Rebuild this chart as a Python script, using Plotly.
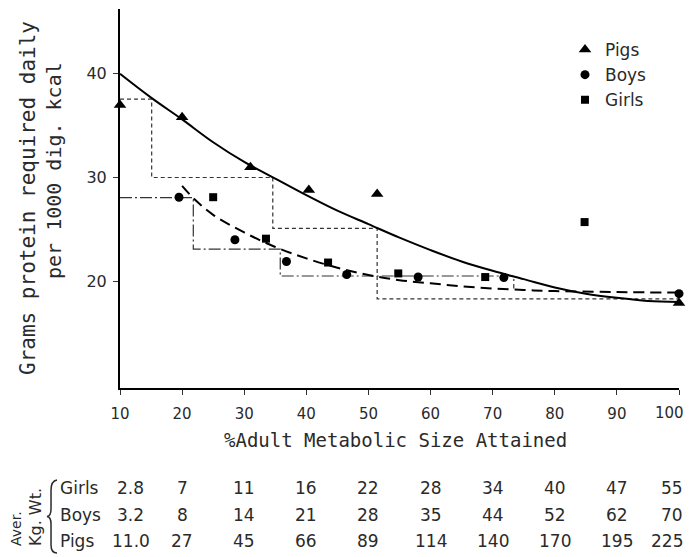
import plotly.graph_objects as go

# ---- data ----
pigs_x = [10, 20, 31, 40.4, 51.4, 100]
pigs_y = [37.0, 35.8, 31.0, 28.8, 28.4, 17.9]
boys_x = [19.5, 28.5, 36.8, 46.5, 58.0, 71.8, 100]
boys_y = [28.1, 24.0, 21.9, 20.65, 20.4, 20.35, 18.8]
girls_x = [25.0, 33.5, 43.5, 54.8, 68.8, 84.8]
girls_y = [28.1, 24.1, 21.8, 20.75, 20.4, 25.7]

pig_curve_x = [10, 15, 20, 25, 30, 35, 40, 45, 50, 55, 60, 65, 70, 75, 80, 85, 90, 95, 100]
pig_curve_y = [40.0, 37.7, 35.6, 33.4, 31.5, 29.9, 28.3, 26.8, 25.5, 24.2, 23.0, 21.9, 21.0,
               20.2, 19.4, 18.8, 18.4, 18.1, 18.0]
child_curve_x = [20, 22, 25, 30, 35, 40, 45, 50, 55, 60, 65, 70, 75, 80, 90, 100]
child_curve_y = [29.2, 27.9, 26.4, 24.7, 23.3, 22.2, 21.3, 20.6, 20.1, 19.8, 19.5, 19.3,
                 19.15, 19.05, 18.95, 18.9]

pig_step_x = [10, 15.1, 15.1, 34.6, 34.6, 51.4, 51.4, 100]
pig_step_y = [37.55, 37.55, 30.0, 30.0, 25.1, 25.1, 18.3, 18.3]
child_step_x = [10, 21.8, 21.8, 35.8, 35.8, 73.4, 73.4]
child_step_y = [28.05, 28.05, 23.1, 23.1, 20.5, 20.5, 19.3]

x_ticks = [10, 20, 30, 40, 50, 60, 70, 80, 90, 100]
# the last label ("100") sits on the page edge; it is drawn as a right-aligned annotation
x_tick_labels = ["10", "20", "30", "40", "50", "60", "70", "80", "90", ""]
last_x_label = "100"
y_ticks = [20, 30, 40]

table_groups = ["Girls", "Boys", "Pigs"]
girls_wt = ["2.8", "7", "11", "16", "22", "28", "34", "40", "47", "55"]
boys_wt = ["3.2", "8", "14", "21", "28", "35", "44", "52", "62", "70"]
pigs_wt = ["11.0", "27", "45", "66", "89", "114", "140", "170", "195", "225"]

FONT = "DejaVu Sans"
MONO = "DejaVu Sans Mono"
TXT = "#2a2a2a"

fig = go.Figure()

fig.add_trace(go.Scatter(x=pig_step_x, y=pig_step_y, mode="lines",
                         line=dict(color="#333", width=1.2, dash="4px,3px"),
                         showlegend=False, hoverinfo="skip"))
fig.add_trace(go.Scatter(x=child_step_x, y=child_step_y, mode="lines",
                         line=dict(color="#333", width=1.2, dash="12px,3px,2px,3px"),
                         showlegend=False, hoverinfo="skip"))
fig.add_trace(go.Scatter(x=pig_curve_x, y=pig_curve_y, mode="lines",
                         line=dict(color="black", width=2, shape="spline"),
                         showlegend=False, hoverinfo="skip"))
fig.add_trace(go.Scatter(x=child_curve_x, y=child_curve_y, mode="lines",
                         line=dict(color="black", width=2, shape="spline", dash="11px,6px"),
                         showlegend=False, hoverinfo="skip"))

fig.add_trace(go.Scatter(x=pigs_x, y=pigs_y, mode="markers", name="Pigs",
                         marker=dict(symbol="triangle-up", size=11, color="black"),
                         cliponaxis=False))
fig.add_trace(go.Scatter(x=boys_x, y=boys_y, mode="markers", name="Boys",
                         marker=dict(symbol="circle", size=9, color="black"),
                         cliponaxis=False))
fig.add_trace(go.Scatter(x=girls_x, y=girls_y, mode="markers", name="Girls",
                         marker=dict(symbol="square", size=8, color="black"),
                         cliponaxis=False))

# the page has an 8px body margin: the figure sits at (8, 8)
OFF = 8
W, H = 694 - OFF, 557 - OFF
# plot area in reference-picture pixels: x 120..679, y 9..388
L, R, T, B = 120, 679, 9, 388
def px(x):
    return (x - L) / (R - L)
def py(y):
    return (B - y) / (B - T)

C = dict(xanchor="center", yanchor="middle", showarrow=False, xref="paper", yref="paper")
ann = []
# y-axis title (two lines)
ann.append(dict(text="Grams protein required daily", x=px(28), y=py(198), textangle=-90,
                font=dict(family=MONO, size=21, color=TXT), **C))
ann.append(dict(text="per 1000 dig. kcal", x=px(54), y=py(171), textangle=-90,
                font=dict(family=MONO, size=20, color=TXT), **C))
# x-axis title
ann.append(dict(text="%Adult Metabolic Size Attained", x=px(395), y=py(440),
                font=dict(family=MONO, size=19, color=TXT), **C))
# last x tick label
ann.append(dict(text=last_x_label, x=x_ticks[-1], xref="x", y=py(413), yref="paper",
                xanchor="right", xshift=7, yanchor="middle", showarrow=False,
                font=dict(family=FONT, size=15, color=TXT)))

# weight table
rows = [girls_wt, boys_wt, pigs_wt]
row_y = [488, 515, 541]
n = len(x_ticks)
for name, vals, ry in zip(table_groups, rows, row_y):
    ann.append(dict(text=name, x=px(58), y=py(ry), xref="paper", yref="paper", showarrow=False,
                    xanchor="left", yanchor="middle", font=dict(family=FONT, size=17, color=TXT)))
    for i, (tx, v) in enumerate(zip(x_ticks, vals)):
        if i == 0:
            extra = dict(x=tx + 1.7, xanchor="center")
        elif i == n - 1:
            extra = dict(x=tx, xanchor="right", xshift=6)
        else:
            extra = dict(x=tx, xanchor="center")
        ann.append(dict(text=v, y=py(ry), xref="x", yref="paper", showarrow=False,
                        yanchor="middle", font=dict(family=FONT, size=17, color=TXT), **extra))
ann.append(dict(text="Aver.", x=px(16), y=py(529), textangle=-90,
                font=dict(family=FONT, size=14, color=TXT), **C))
ann.append(dict(text="Kg. Wt.", x=px(35), y=py(517), textangle=-90,
                font=dict(family=FONT, size=16, color=TXT), **C))

# brace path in paper coordinates
def P(xp, yp):
    return f"{px(xp):.4f},{py(yp):.4f}"
brace = ("M " + P(57, 480) + " Q " + P(51, 481) + " " + P(51, 490) +
         " L " + P(51, 509) + " Q " + P(51, 516) + " " + P(47, 516.5) +
         " Q " + P(51, 517) + " " + P(51, 524) +
         " L " + P(51, 545) + " Q " + P(51, 553) + " " + P(57, 553))
shapes = [dict(type="path", path=brace, xref="paper", yref="paper",
               line=dict(color=TXT, width=1.5))]

fig.update_layout(
    width=W, height=H,
    margin=dict(l=L - OFF, r=694 - R, t=T - OFF, b=557 - B),
    paper_bgcolor="white", plot_bgcolor="white",
    annotations=ann, shapes=shapes,
    showlegend=True,
    legend=dict(x=px(565), y=py(32), xanchor="left", yanchor="top", xref="paper", yref="paper",
                font=dict(family=FONT, size=17, color=TXT), bgcolor="rgba(0,0,0,0)",
                tracegroupgap=0, itemwidth=30),
    xaxis=dict(range=[10, 100], tickvals=x_ticks, ticktext=x_tick_labels, showgrid=False,
               zeroline=False, showline=True, linecolor="black", linewidth=2, ticks="outside",
               ticklen=5, tickcolor="#333", tickwidth=1, ticklabelstandoff=6,
               tickfont=dict(family=FONT, size=15, color=TXT)),
    yaxis=dict(range=[9.7, 46.25], tickvals=y_ticks, showgrid=False, zeroline=False,
               showline=True, linecolor="black", linewidth=2, ticks="outside", ticklen=5,
               tickcolor="#333", tickwidth=1, ticklabelstandoff=3,
               tickfont=dict(family=FONT, size=16, color=TXT)),
)

fig.write_html("out.html")
